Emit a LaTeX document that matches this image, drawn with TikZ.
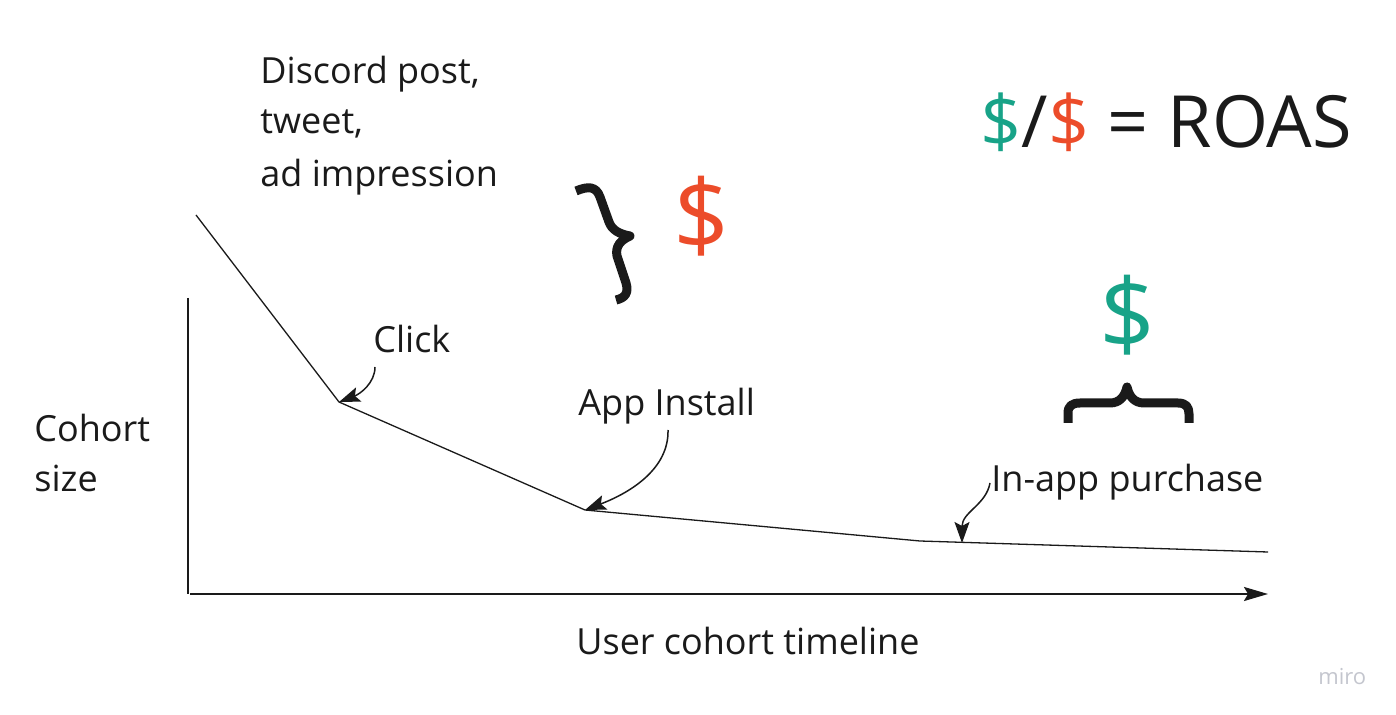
\documentclass[tikz,border=0pt]{standalone}
\usepackage{fontspec}
\setmainfont{Open Sans}
\usetikzlibrary{arrows.meta}
\definecolor{roasgreen}{RGB}{24,163,136}
\definecolor{roasred}{RGB}{236,76,42}
\definecolor{inkblack}{RGB}{26,26,26}
\definecolor{mirogray}{RGB}{196,198,206}
\tikzset{
  lbl/.style={inner sep=0pt, anchor=base west, text=inkblack, font=\fontsize{18pt}{24pt}\selectfont},
  bigsym/.style={inner sep=0pt, anchor=center, font=\fontsize{49pt}{55pt}\selectfont},
  axisline/.style={draw=inkblack, line width=1pt},
  curveline/.style={draw=inkblack, line width=0.65pt, line join=miter},
  pointer/.style={draw=inkblack, line width=0.75pt, -{Stealth[length=10.5pt,width=7.5pt,inset=2pt]}},
  bracestroke/.style={draw=inkblack, line width=4.5pt, line join=round},
}
\begin{document}
\begin{tikzpicture}[x=0.5pt,y=-0.5pt]
\useasboundingbox (0,0) rectangle (1396,715);
% axes
\coordinate (yaxtop) at (188,298);
\coordinate (origin) at (188,594);
\coordinate (xaxend) at (1268,594);
\draw[axisline] (yaxtop) -- (origin);
\draw[axisline, -{Stealth[length=12pt,width=7pt,inset=2pt]}] ([xshift=1pt]origin) -- (xaxend);
% cohort curve
\coordinate (p0) at (196,215);
\coordinate (pclick) at (339,402);
\coordinate (pinstall) at (585,510);
\coordinate (p3) at (920,541);
\coordinate (pbuy) at (962,543);
\coordinate (p4) at (1268,552);
\draw[curveline] (p0) -- (pclick) -- (pinstall) -- (p3) -- (p4);
% labels
\node[lbl] (disc1) at (260,84) {Discord post,};
\node[lbl] (disc2) at (260,134) {tweet,};
\node[lbl] (disc3) at (260,187) {ad impression};
\node[lbl] (click) at (373,353) {Click};
\node[lbl] (install) at (578,416) {App Install};
\node[lbl] (cohort1) at (34,442) {Cohort};
\node[lbl] (cohort2) at (34,492) {size};
\node[lbl] (purchase) at (991,492) {In-app purchase};
\node[lbl] (timeline) at (576,654) {User cohort timeline};
\node[inner sep=0pt, anchor=base west, text=inkblack, font=\fontsize{36pt}{42pt}\selectfont] (roas) at (980,148)
  {{\color{roasgreen}\$}/{\color{roasred}\$} = ROAS};
\node[bigsym, text=roasred] (costsym) at (702,216) {\$};
\node[bigsym, text=roasgreen] (revsym) at (1127,315) {\$};
\node[inner sep=0pt, anchor=base west, text=mirogray, font=\fontsize{11pt}{13pt}\selectfont] (miro) at (1318,684) {miro};
% pointers
\coordinate (clickfrom) at (375,367);
\coordinate (installfrom) at (668,430);
\coordinate (purchasefrom) at (990,483);
\draw[pointer] (clickfrom) .. controls (375,383) and (360,394) .. (pclick);
\draw[pointer] (installfrom) .. controls (669,468) and (632,492) .. (pinstall);
\draw[pointer] (purchasefrom) .. controls (986,505) and (962,512) .. (pbuy);
% braces
\draw[bracestroke] (576,191) .. controls (588,186) and (596,186) .. (600,197) -- (609,222)
  .. controls (612,230) and (619,234) .. (630,236)
  .. controls (621,240) and (615,246) .. (617,256) -- (626,283)
  .. controls (629,293) and (625,298) .. (616,300);
\draw[bracestroke] (1068,423) -- (1068,413) .. controls (1068,406) and (1072,403) .. (1080,403)
  -- (1110,403) .. controls (1120,403) and (1125,396) .. (1127,387)
  .. controls (1129,396) and (1134,403) .. (1144,403) -- (1178,403)
  .. controls (1186,403) and (1189,407) .. (1189,414) -- (1189,423);
\end{tikzpicture}
\end{document}
